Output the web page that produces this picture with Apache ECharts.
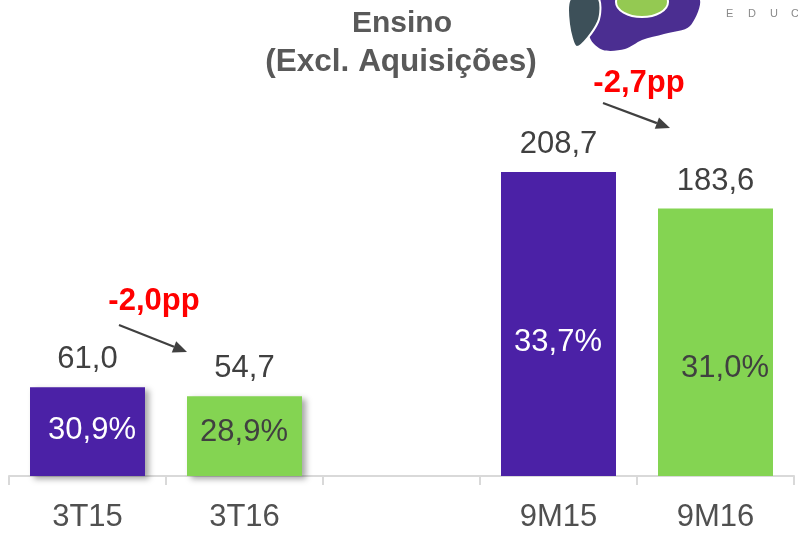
<!DOCTYPE html>
<html>
<head>
<meta charset="utf-8">
<script src="https://cdn.jsdelivr.net/npm/echarts@6/dist/echarts.min.js"></script>
<style>html,body{margin:0;padding:0;background:#fff;}#c{width:798px;height:533px;}</style>
</head>
<body>
<div id="c"></div>
<script>
const categories = ['3T15', '3T16', '', '9M15', '9M16'];
const values = [61.0, 54.7, null, 208.7, 183.6];
const valueLabels = ['61,0', '54,7', '', '208,7', '183,6'];
const margins = ['30,9%', '28,9%', '', '33,7%', '31,0%'];
const deltas = ['-2,0pp', '-2,7pp'];
const titleLines = ['Ensino', '(Excl. Aquisições)'];

const PURPLE = '#4B21A6', GREEN = '#84D452';
const barColors = [PURPLE, GREEN, PURPLE, PURPLE, GREEN];
const shadowed = [true, true, false, false, false];
const pctColors = ['#ffffff', '#404040', '#404040', '#ffffff', '#404040'];
const pctPos = [[62, 43], [57, 36], [0, 0], [57, 170], [67, 160]];

const chart = echarts.init(document.getElementById('c'), null, {renderer: 'canvas'});
const FONT = 'Liberation Sans, Arial, sans-serif';

const mainData = values.map((v, i) => ({
  value: v,
  itemStyle: Object.assign({color: barColors[i]}, shadowed[i] ? {
    shadowColor: 'rgba(0,0,0,0.35)', shadowBlur: 6, shadowOffsetX: 4, shadowOffsetY: 3
  } : {})
}));
const pctData = values.map((v, i) => ({
  value: v,
  label: {
    show: !!margins[i],
    formatter: margins[i],
    position: pctPos[i],
    align: 'center',
    verticalAlign: 'middle',
    color: pctColors[i],
    fontSize: 31,
    fontFamily: FONT
  }
}));

function arrow(x1, y1, x2, y2) {
  const dx = x2 - x1, dy = y2 - y1, L = Math.hypot(dx, dy);
  const ux = dx / L, uy = dy / L, h = 14, w = 6;
  const bx = x2 - ux * h, by = y2 - uy * h;
  return [
    {type: 'line', shape: {x1: x1, y1: y1, x2: bx, y2: by}, style: {stroke: '#404040', lineWidth: 2.2}},
    {type: 'polygon', shape: {points: [[x2, y2], [bx - uy * w, by + ux * w], [bx + uy * w, by - ux * w]]}, style: {fill: '#404040'}}
  ];
}

const option = {
  backgroundColor: '#ffffff',
  animation: false,
  grid: {left: 9, right: 4, top: 39, bottom: 56, containLabel: false},
  xAxis: {
    type: 'category',
    data: categories,
    axisLine: {lineStyle: {color: '#d9d9d9', width: 2}},
    axisTick: {show: true, length: 9, lineStyle: {color: '#d9d9d9', width: 2}},
    axisLabel: {color: '#505050', fontSize: 31, fontFamily: FONT, margin: 26}
  },
  yAxis: {type: 'value', min: 0, max: 300, show: false, splitLine: {show: false}},
  series: [
    {
      type: 'bar',
      data: mainData,
      barWidth: 115,
      label: {
        show: true, position: 'top', distance: 12,
        formatter: p => valueLabels[p.dataIndex],
        color: '#404040', fontSize: 31, fontFamily: FONT
      }
    },
    {
      type: 'bar',
      data: pctData,
      barWidth: 115,
      barGap: '-100%',
      silent: true,
      itemStyle: {color: 'rgba(0,0,0,0)'},
      z: 5
    }
  ],
  graphic: [
    {type: 'text', x: 402, y: 24, style: {text: titleLines[0], font: 'bold 30px ' + FONT, fill: '#595959', textAlign: 'center', textVerticalAlign: 'middle'}},
    {type: 'text', x: 401, y: 62, style: {text: titleLines[1], font: 'bold 31.5px ' + FONT, fill: '#595959', textAlign: 'center', textVerticalAlign: 'middle'}},
    {type: 'text', x: 154, y: 301, style: {text: deltas[0], font: 'bold 31px ' + FONT, fill: '#FF0000', textAlign: 'center', textVerticalAlign: 'middle'}},
    {type: 'text', x: 639, y: 83, style: {text: deltas[1], font: 'bold 31px ' + FONT, fill: '#FF0000', textAlign: 'center', textVerticalAlign: 'middle'}},
    ...arrow(119, 325, 187, 352),
    ...arrow(603, 103, 670, 128),
    // logo (partially cropped)
    {type: 'polygon', shape: {smooth: 0.3, points: [[586, -2], [698, -2], [690, 26], [664, 34], [642, 40], [625, 49], [603, 50], [590, 38]]}, style: {fill: '#4B2E91'}},
    {type: 'polygon', shape: {smooth: 0.3, points: [[571, -2], [598, -2], [598, 22], [577, 47], [569, 24]]}, style: {fill: '#3D5059', stroke: '#fff', lineWidth: 2}},
    {type: 'ellipse', shape: {cx: 642, cy: 2, rx: 26, ry: 15}, style: {fill: '#94C952', stroke: '#fff', lineWidth: 2}},
    {type: 'text', x: 726, y: 14, style: {text: 'E', font: '11px ' + FONT, fill: '#8a8a8a', textVerticalAlign: 'middle'}},
    {type: 'text', x: 748, y: 14, style: {text: 'D', font: '11px ' + FONT, fill: '#8a8a8a', textVerticalAlign: 'middle'}},
    {type: 'text', x: 770, y: 14, style: {text: 'U', font: '11px ' + FONT, fill: '#8a8a8a', textVerticalAlign: 'middle'}},
    {type: 'text', x: 791, y: 14, style: {text: 'C', font: '11px ' + FONT, fill: '#8a8a8a', textVerticalAlign: 'middle'}}
  ]
};
chart.setOption(option);
</script>
</body>
</html>
